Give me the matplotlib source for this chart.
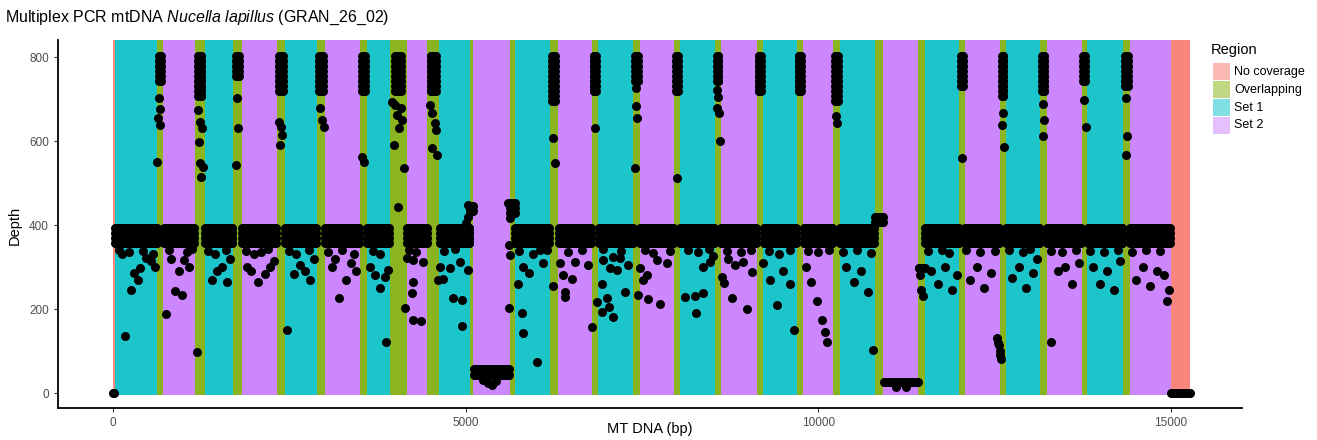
import numpy as np
import matplotlib.pyplot as plt
from matplotlib.patches import Rectangle

plt.rcParams['font.family'] = ['Liberation Sans', 'DejaVu Sans']
plt.rcParams['mathtext.fontset'] = 'custom'
plt.rcParams['mathtext.it'] = 'Liberation Sans:italic'
plt.rcParams['mathtext.rm'] = 'Liberation Sans'

# region limits along the mitochondrial genome (bp) and their amplicon set
region_breaks = [0, 25, 620, 713, 1163, 1304, 1706, 1825, 2321, 2439, 2888, 3006, 3502, 3597,
                 3927, 4164, 4448, 4627, 5062, 5109, 5629, 5700, 6196, 6313, 6787, 6880, 7377,
                 7472, 7958, 8039, 8535, 8620, 9126, 9220, 9693, 9787, 10212, 10307, 10803,
                 10921, 11417, 11512, 11999, 12080, 12576, 12661, 13143, 13238, 13734, 13814,
                 14324, 14419, 14996, 15270]
region_type = ['No coverage'] + ['Set 1', 'Overlapping', 'Set 2', 'Overlapping'] * 12 + \
              ['Set 1', 'Overlapping', 'Set 2', 'No coverage']

# bulk of the depth values in each region (top and bottom of the dense cloud)
depth_hi = [0, 392, 803, 392, 803, 392, 803, 392, 803, 392, 803, 392, 803, 392, 803, 392, 803,
            392, 445, 56, 452, 392, 803, 392, 803, 392, 803, 392, 803, 392, 803, 392, 803, 392,
            803, 392, 803, 392, 420, 27, 298, 392, 803, 392, 803, 392, 803, 392, 803, 392, 803,
            392, 0]
depth_lo = [0, 356, 733, 356, 705, 356, 752, 356, 714, 356, 717, 356, 710, 356, 717, 356, 714,
            356, 433, 38, 420, 356, 693, 356, 714, 356, 738, 356, 717, 356, 733, 356, 719, 356,
            710, 356, 693, 356, 405, 20, 298, 356, 728, 356, 700, 356, 714, 356, 738, 356, 721,
            356, 0]

# scattered positions with lower / higher depth
out_pos = [130, 170, 255, 300, 360, 380, 470, 540, 590, 630, 640, 650, 660, 665,
           750, 820, 880, 930, 980, 1005, 1080, 1190, 1200, 1220, 1230, 1240, 1250, 1260, 1280,
           1400, 1480, 1550, 1620, 1660, 1750, 1760, 1770,
           1900, 1960, 2000, 2050, 2150, 2230, 2280, 2350, 2370, 2380, 2400,
           2470, 2560, 2650, 2720, 2800, 2850, 2930, 2960, 2990,
           3100, 3150, 3200, 3300, 3380, 3450, 3530, 3560,
           3650, 3720, 3790, 3860, 3870, 3900, 3960, 3990, 4000, 4020, 4040, 4060, 4080, 4100, 4120,
           4140, 4170, 4240, 4255, 4255, 4255, 4370, 4395, 4500, 4520, 4530, 4560, 4580, 4600,
           4610, 4640, 4680, 4780, 4820, 4920, 4950, 4950, 5010, 5030, 5030, 5040, 5060,
           5250, 5320, 5380, 5430, 5600, 5615, 5615, 5630, 5630, 5660,
           5740, 5800, 5815, 5815, 5900, 6010, 6055, 6100, 6240, 6240, 6260,
           6340, 6380, 6410, 6410, 6510, 6550, 6735, 6790, 6830,
           6865, 6935, 6935, 6950, 7005, 7035, 7050, 7090, 7090, 7150, 7190, 7260, 7300,
           7400, 7410, 7420, 7430, 7445, 7470, 7515, 7570, 7585, 7715, 7755, 7855, 8000,
           8110, 8250, 8265, 8365, 8365, 8465, 8510, 8560, 8570, 8580, 8590, 8600,
           8635, 8665, 8720, 8775, 8820, 8930, 8990, 9060,
           9215, 9315, 9415, 9500, 9600, 9650, 9830, 9900, 9980, 10050, 10100, 10130, 10250, 10270,
           10400, 10500, 10600, 10700, 10780, 11100, 11250, 11440, 11460, 11480,
           11600, 11700, 11800, 11900, 11960, 12040,
           12150, 12250, 12350, 12450, 12540, 12550, 12560, 12570, 12580, 12590, 12600, 12620, 12640,
           12750, 12850, 12950, 13050, 13100, 13180, 13190, 13200,
           13300, 13400, 13500, 13600, 13700, 13770, 13790,
           13900, 14000, 14100, 14200, 14280, 14370, 14370, 14380,
           14500, 14600, 14700, 14800, 14900, 14950, 14970,
           80, 220, 420, 560, 800, 1050, 1120, 1350, 1450, 1600, 1880, 2100, 2200, 2500, 2600,
           2780, 3050, 3250, 3420, 3680, 3780, 4200, 4300, 4700, 4850, 5750, 5950, 6150, 6450,
           6650, 6950, 7200, 7550, 7650, 7900, 8150, 8300, 8450, 8700, 8900, 9050, 9300, 9450,
           9600, 9850, 10000, 10150, 10350, 10550, 10750, 11550, 11750, 11850, 12100, 12300,
           12500, 12700, 12900, 13000, 13300, 13450, 13650, 13850, 14050, 14250, 14450, 14650,
           14850]
out_depth = [330, 136, 245, 285, 270, 297, 322, 315, 300, 550, 655, 702, 638, 676,
             188, 320, 243, 290, 233, 317, 300, 97, 674, 598, 548, 645, 514, 631, 538,
             270, 290, 300, 265, 320, 543, 702, 631,
             300, 290, 330, 265, 283, 300, 315, 645, 590, 633, 614,
             150, 283, 305, 290, 270, 320, 679, 650, 633,
             300, 320, 226, 270, 310, 290, 562, 550,
             300, 280, 250, 276, 121, 293, 693, 590, 686, 662, 443, 631, 679, 650, 536,
             202, 321, 238, 264, 174, 317, 171, 312, 686, 583, 667, 643, 626, 567,
             269, 300, 271, 298, 226, 312, 221, 160, 405, 448, 293, 420, 436,
             32, 25, 20, 28, 452, 352, 202, 417, 329, 436,
             260, 190, 143, 300, 286, 74, 340, 310, 607, 255, 548,
             310, 281, 240, 229, 271, 312, 305, 157, 631,
             217, 260, 193, 317, 226, 205, 298, 181, 324, 293, 321, 240, 305,
             536, 683, 726, 655, 233, 298, 269, 281, 224, 317, 212, 310, 512,
             229, 231, 190, 238, 300, 312, 326, 721, 679, 705, 667, 600,
             276, 262, 319, 226, 305, 312, 200, 288,
             310, 269, 210, 290, 260, 150, 300, 265, 220, 175, 145, 121, 660, 643,
             300, 265, 290, 240, 102, 14, 15, 280, 245, 230,
             290, 260, 300, 245, 280, 560,
             270, 300, 250, 285, 130, 120, 115, 100, 90, 80, 638, 667, 586,
             275, 300, 250, 285, 320, 612, 688, 650,
             121, 290, 300, 260, 310, 698, 633,
             300, 260, 290, 245, 315, 702, 567, 612,
             270, 300, 255, 290, 280, 220, 245,
             340, 335, 338, 330, 340, 335, 342, 338, 330, 340, 338, 335, 342, 338, 330,
             340, 336, 340, 332, 338, 330, 340, 335, 338, 342, 338, 330, 340, 336,
             340, 342, 338, 340, 333, 338, 340, 336, 342, 338, 336, 340, 338, 332,
             340, 338, 335, 340, 336, 340, 333, 338, 340, 333, 340, 336,
             338, 340, 335, 342, 338, 336, 340, 338, 335, 340, 336, 340,
             338]

panel_colors = {'No coverage': '#F8867E', 'Overlapping': '#8BB520',
                'Set 1': '#1CC5C9', 'Set 2': '#CC86FE'}
key_colors = {'No coverage': '#FBB9B5', 'Overlapping': '#BFD783',
              'Set 1': '#80DFE2', 'Set 2': '#E4C0FF'}
legend_order = ['No coverage', 'Overlapping', 'Set 1', 'Set 2']

W, H = 1317, 440
fig = plt.figure(figsize=(W / 100, H / 100), dpi=100)
ax = fig.add_axes([58 / W, 1 - 408 / H, (1242 - 58) / W, (408 - 40) / H])
ax.set_xlim(-780, 16008)
ax.set_ylim(-35.7, 840.5)

# coloured regions
for i, name in enumerate(region_type):
    s, e = region_breaks[i], region_breaks[i + 1]
    ax.add_patch(Rectangle((s, -5), e - s, 845.5, facecolor=panel_colors[name],
                           edgecolor='none', zorder=1))

# depth points (double-depth streaks sit in the middle of the overlaps)
xs, ys = [], []
for i in range(len(region_type)):
    s, e = region_breaks[i], region_breaks[i + 1]
    if depth_hi[i] > 700:
        w = e - s
        pos = np.arange(s + 0.3 * w, e - 0.3 * w + 1, 12)
    else:
        pos = np.arange(s + 6, e, 12)
    for d in np.arange(depth_hi[i], depth_lo[i] - 0.1, -12):
        xs.append(pos)
        ys.append(np.full(len(pos), d))
xs = np.concatenate(xs + [np.array(out_pos)])
ys = np.concatenate(ys + [np.array(out_depth, dtype=float)])
ax.scatter(xs, ys, s=42, c='black', linewidths=0, zorder=3)

ax.set_xticks([0, 5000, 10000, 15000])
ax.set_xticklabels(['0', '5000', '10000', '15000'])
ax.set_yticks([0, 200, 400, 600, 800])
for sp in ['top', 'right']:
    ax.spines[sp].set_visible(False)
for sp in ['left', 'bottom']:
    ax.spines[sp].set_linewidth(1.3)
ax.tick_params(length=3, width=0.8, color='#333333', labelcolor='#4D4D4D', labelsize=8.5)

fig.text(5 / W, 1 - 18 / H, r'Multiplex PCR mtDNA $\it{Nucella\ lapillus}$ (GRAN_26_02)',
         fontsize=11.5, va='center', ha='left')
fig.text(15 / W, 1 - 225 / H, 'Depth', rotation=90, fontsize=10.5, va='center', ha='center')
fig.text(650 / W, 1 - 429 / H, 'MT DNA (bp)', fontsize=10.5, va='center', ha='center')

# legend
fig.text(1211 / W, 1 - 50 / H, 'Region', fontsize=10.5, va='center', ha='left')
for k, name in enumerate(legend_order):
    top = 63 + 18 * k
    fig.add_artist(Rectangle((1213 / W, 1 - (top + 17) / H), 17 / W, 17 / H,
                             transform=fig.transFigure, facecolor=key_colors[name],
                             edgecolor='none'))
    fig.text(1234 / W, 1 - (top + 8.5) / H, name, fontsize=9, va='center', ha='left')

fig.savefig('out.png', dpi=100)
